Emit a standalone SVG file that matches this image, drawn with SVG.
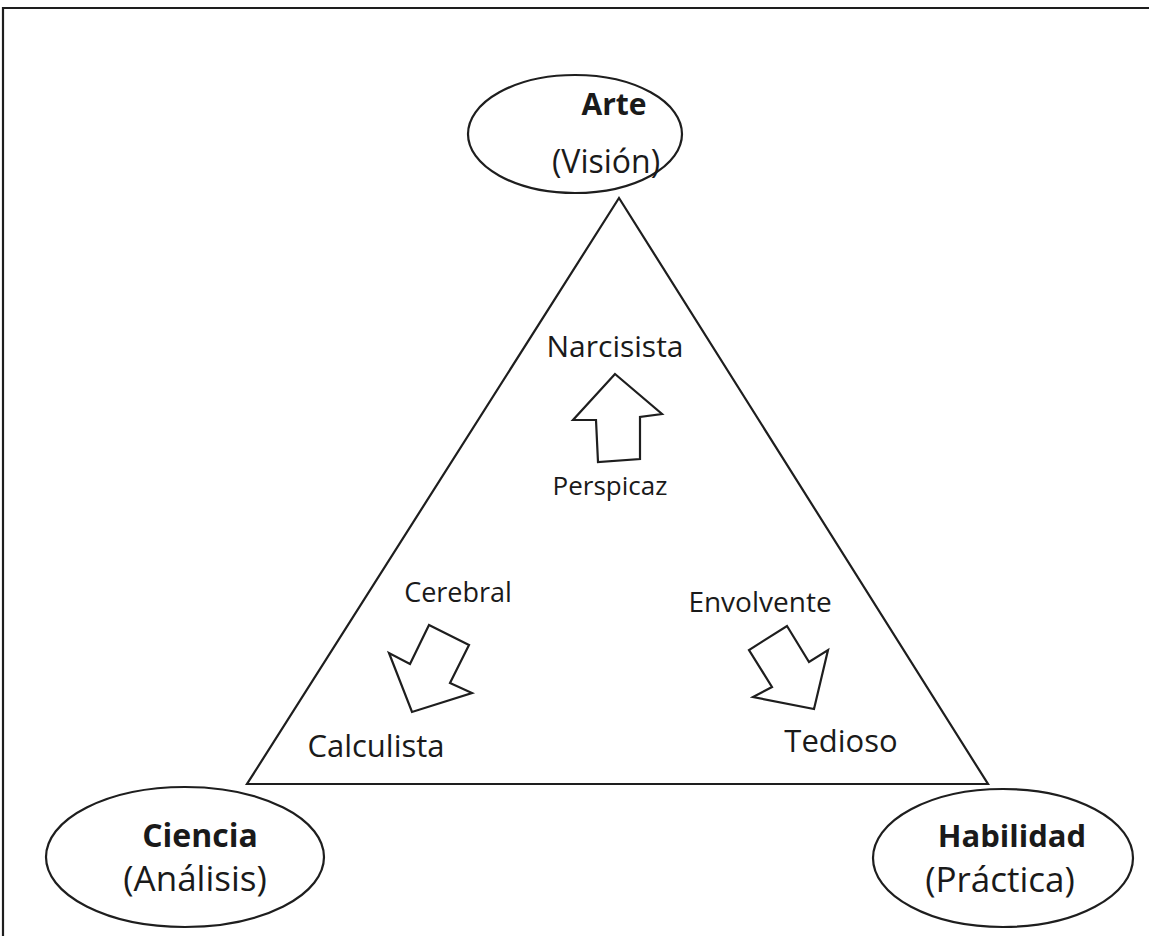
<svg xmlns="http://www.w3.org/2000/svg" width="1149" height="936" viewBox="0 0 1149 936">
<style>
.ln{fill:none;stroke:#1e1e1e;stroke-width:2.2}
.sh{fill:#fff;stroke:#1e1e1e;stroke-width:2.2;stroke-linejoin:miter}
.t{font-family:"Open Sans","Noto Sans",sans-serif;fill:#1a1a1a;text-anchor:middle}
.b{font-weight:bold}
</style>
<rect width="1149" height="936" fill="#fff"/>
<path class="ln" d="M3,936 V8 H1149" stroke-width="2.5"/>
<g id="connectors">
<polygon id="triangle" class="ln" points="619,198 988,784 247,784"/>
<polygon id="arrow-perspicaz" class="sh" points="615,374 662,414 640,417 640,459 598,462 596,420 573,420"/>
<polygon id="arrow-cerebral" class="sh" points="429,625 469,645 450,683 472,693 412,712 389,653 410,664"/>
<polygon id="arrow-envolvente" class="sh" points="787,626 809,662 828,650 814,709 753,697 772,687 749,650"/>
</g>
<g id="node-arte">
<ellipse class="ln" cx="575" cy="134" rx="107" ry="59"/>
<text class="t b" x="614" y="115" font-size="30">Arte</text>
<text class="t" x="606" y="173" font-size="32">(Visión)</text>
</g>
<g id="node-ciencia">
<ellipse class="ln" cx="185" cy="857" rx="139" ry="70"/>
<text class="t b" x="200" y="847" font-size="32">Ciencia</text>
<text class="t" x="195" y="891" font-size="35">(Análisis)</text>
</g>
<g id="node-habilidad">
<ellipse class="ln" cx="1003" cy="858" rx="130" ry="69"/>
<text class="t b" x="1012" y="847" font-size="31">Habilidad</text>
<text class="t" x="1000" y="892" font-size="35">(Práctica)</text>
</g>
<g id="label-narcisista"><text class="t" x="615" y="357" font-size="30">Narcisista</text></g>
<g id="label-perspicaz"><text class="t" x="610" y="495" font-size="26">Perspicaz</text></g>
<g id="label-cerebral"><text class="t" x="458" y="602" font-size="27">Cerebral</text></g>
<g id="label-envolvente"><text class="t" x="760" y="612" font-size="28">Envolvente</text></g>
<g id="label-calculista"><text class="t" x="376" y="757" font-size="31">Calculista</text></g>
<g id="label-tedioso"><text class="t" x="841" y="752" font-size="31">Tedioso</text></g>
</svg>
